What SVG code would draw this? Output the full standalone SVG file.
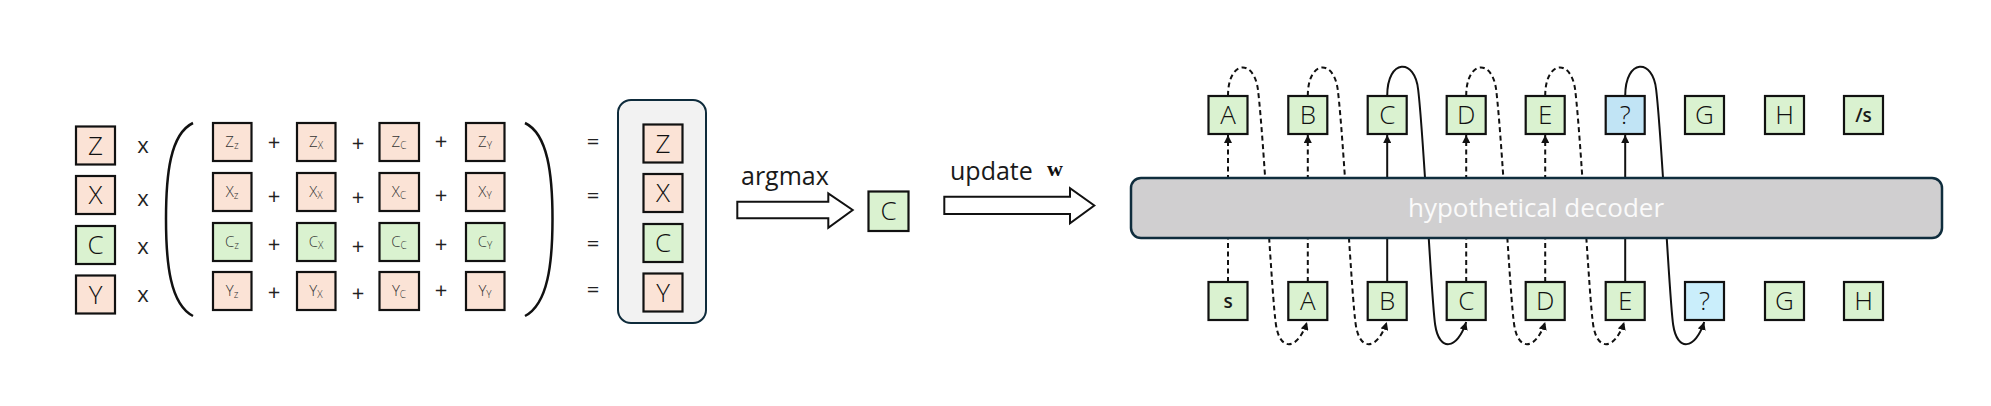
<svg xmlns="http://www.w3.org/2000/svg" width="1991" height="406" viewBox="0 0 1991 406">
<defs>
<style>
.pk{fill:#fbe3d6;stroke:#111;stroke-width:2.2}
.gr{fill:#daf2d0;stroke:#111;stroke-width:2.2}
.bl1{fill:#c1e4f5;stroke:#111;stroke-width:2.2}
.bl2{fill:#caeefb;stroke:#111;stroke-width:2.2}
.big{font-family:"Open Sans","Liberation Sans",sans-serif;font-weight:300;font-size:26px;fill:#111;text-anchor:middle}
.sm{font-family:"Open Sans","Liberation Sans",sans-serif;font-weight:300;font-size:15px;fill:#333;text-anchor:middle}
.sub{font-size:10px}
.op{font-family:"Open Sans","Liberation Sans",sans-serif;font-weight:400;font-size:22px;fill:#222;text-anchor:middle}
.lbl{font-family:"Open Sans","Liberation Sans",sans-serif;font-weight:400;font-size:24px;fill:#1a1a1a}
.tok{font-family:"Open Sans","Liberation Sans",sans-serif;font-weight:600;font-size:19px;fill:#1a1a1a;text-anchor:middle}
.ln{fill:none;stroke:#111;stroke-width:2}
.dash{stroke-dasharray:5 3.5}
</style>
<marker id="ah" viewBox="0 0 10 10" refX="10" refY="5" markerWidth="8" markerHeight="8" markerUnits="userSpaceOnUse" orient="auto">
<path d="M0,0 L10,5 L0,10 z" fill="#111"/>
</marker>
</defs>
<rect width="1991" height="406" fill="#fff"/>

<!-- left column -->
<g id="left-Z"><rect class="pk" x="76" y="126.5" width="39" height="38"/><text class="big" x="95.5" y="154.5">Z</text></g>
<g id="left-X"><rect class="pk" x="76" y="176" width="39" height="38"/><text class="big" x="95.5" y="204">X</text></g>
<g id="left-C"><rect class="gr" x="76" y="226" width="39" height="38"/><text class="big" x="95.5" y="254">C</text></g>
<g id="left-Y"><rect class="pk" x="76" y="275.5" width="39" height="38"/><text class="big" x="95.5" y="303.5">Y</text></g>

<g id="times">
<text class="op" x="143" y="153">x</text>
<text class="op" x="143" y="206">x</text>
<text class="op" x="143" y="254">x</text>
<text class="op" x="143" y="302">x</text>
</g>

<g id="parens" class="ln" style="stroke-width:2.5">
<path d="M193,123 C170,134 166,175 166,219 C166,263 170,304 193,316"/>
<path d="M525,123 C548,134 552.5,175 552.5,219 C552.5,263 548,304 525,316"/>
</g>

<!-- matrix -->
<g id="m-Z">
<rect class="pk" x="213" y="123" width="38.5" height="38"/><text class="sm" x="232" y="147">Z<tspan class="sub" dy="2">z</tspan></text>
<rect class="pk" x="297" y="123" width="38.5" height="38"/><text class="sm" x="316" y="147">Z<tspan class="sub" dy="2">X</tspan></text>
<rect class="pk" x="379.5" y="123" width="39.5" height="38"/><text class="sm" x="399" y="147">Z<tspan class="sub" dy="2">C</tspan></text>
<rect class="pk" x="466" y="123" width="38.5" height="38"/><text class="sm" x="485" y="147">Z<tspan class="sub" dy="2">Y</tspan></text>
</g>
<g id="m-X">
<rect class="pk" x="213" y="173" width="38.5" height="38"/><text class="sm" x="232" y="197">X<tspan class="sub" dy="2">z</tspan></text>
<rect class="pk" x="297" y="173" width="38.5" height="38"/><text class="sm" x="316" y="197">X<tspan class="sub" dy="2">X</tspan></text>
<rect class="pk" x="379.5" y="173" width="39.5" height="38"/><text class="sm" x="399" y="197">X<tspan class="sub" dy="2">C</tspan></text>
<rect class="pk" x="466" y="173" width="38.5" height="38"/><text class="sm" x="485" y="197">X<tspan class="sub" dy="2">Y</tspan></text>
</g>
<g id="m-C">
<rect class="gr" x="213" y="223" width="38.5" height="38"/><text class="sm" x="232" y="247">C<tspan class="sub" dy="2">z</tspan></text>
<rect class="gr" x="297" y="223" width="38.5" height="38"/><text class="sm" x="316" y="247">C<tspan class="sub" dy="2">X</tspan></text>
<rect class="gr" x="379.5" y="223" width="39.5" height="38"/><text class="sm" x="399" y="247">C<tspan class="sub" dy="2">C</tspan></text>
<rect class="gr" x="466" y="223" width="38.5" height="38"/><text class="sm" x="485" y="247">C<tspan class="sub" dy="2">Y</tspan></text>
</g>
<g id="m-Y">
<rect class="pk" x="213" y="272" width="38.5" height="38"/><text class="sm" x="232" y="296">Y<tspan class="sub" dy="2">z</tspan></text>
<rect class="pk" x="297" y="272" width="38.5" height="38"/><text class="sm" x="316" y="296">Y<tspan class="sub" dy="2">X</tspan></text>
<rect class="pk" x="379.5" y="272" width="39.5" height="38"/><text class="sm" x="399" y="296">Y<tspan class="sub" dy="2">C</tspan></text>
<rect class="pk" x="466" y="272" width="38.5" height="38"/><text class="sm" x="485" y="296">Y<tspan class="sub" dy="2">Y</tspan></text>
</g>
<g id="plus">
<text class="op" x="274" y="150">+</text><text class="op" x="358" y="151">+</text><text class="op" x="441" y="149">+</text>
<text class="op" x="274" y="204">+</text><text class="op" x="358" y="205">+</text><text class="op" x="441" y="203">+</text>
<text class="op" x="274" y="252">+</text><text class="op" x="358" y="254">+</text><text class="op" x="441" y="252">+</text>
<text class="op" x="274" y="300">+</text><text class="op" x="358" y="301">+</text><text class="op" x="441" y="298">+</text>
</g>
<g id="equals">
<text class="op" x="593" y="149">=</text>
<text class="op" x="593" y="203">=</text>
<text class="op" x="593" y="251">=</text>
<text class="op" x="593" y="297">=</text>
</g>

<g id="result">
<rect x="618" y="100" width="88" height="223" rx="13" fill="#f2f2f2" stroke="#0e2b3b" stroke-width="2"/>
<rect class="pk" x="643.5" y="124.5" width="39" height="38"/><text class="big" x="663" y="152.5">Z</text>
<rect class="pk" x="643.5" y="174" width="39" height="38"/><text class="big" x="663" y="202">X</text>
<rect class="gr" x="643.5" y="224" width="39" height="38"/><text class="big" x="663" y="252">C</text>
<rect class="pk" x="643.5" y="273.5" width="39" height="38"/><text class="big" x="663" y="301.5">Y</text>
</g>

<g id="argmax">
<polygon points="737.3,201.7 828.3,201.7 828.3,193.3 852.7,210 828.3,227.7 828.3,218.3 737.3,218.3" fill="#fff" stroke="#111" stroke-width="2"/>
<text class="lbl" x="741" y="185" style="font-size:25px">argmax</text>
</g>
<g id="argmax-C"><rect class="gr" x="868.5" y="191.5" width="40" height="39.5"/><text class="big" x="888.5" y="220">C</text></g>
<g id="update">
<polygon points="944.3,196.7 1070,196.7 1070,188.3 1094.3,205.5 1070,223.3 1070,214 944.3,214" fill="#fff" stroke="#111" stroke-width="2"/>
<text class="lbl" x="950" y="180" style="font-size:25px">update</text>
<text x="1055" y="176" font-family="Liberation Serif,serif" font-weight="bold" font-size="22" fill="#111" text-anchor="middle">w</text>
</g>

<!-- connectors -->
<g id="connectors">
<line class="ln dash" x1="1228" y1="282" x2="1228" y2="135" marker-end="url(#ah)"/>
<line class="ln dash" x1="1307.8" y1="282" x2="1307.8" y2="135" marker-end="url(#ah)"/>
<line class="ln" x1="1387.2" y1="282" x2="1387.2" y2="135" marker-end="url(#ah)"/>
<line class="ln dash" x1="1466.2" y1="282" x2="1466.2" y2="135" marker-end="url(#ah)"/>
<line class="ln dash" x1="1545.2" y1="282" x2="1545.2" y2="135" marker-end="url(#ah)"/>
<line class="ln" x1="1625.2" y1="282" x2="1625.2" y2="135" marker-end="url(#ah)"/>
<path class="ln dash" transform="translate(1228,0)" d="M0,96 C0,60 26,58 30,90 C36,140 44,300 48,325 C52,352 70,350 79,322" marker-end="url(#ah)"/>
<path class="ln dash" transform="translate(1307.8,0)" d="M0,96 C0,60 26,58 30,90 C36,140 44,300 48,325 C52,352 70,350 79,322" marker-end="url(#ah)"/>
<path class="ln" transform="translate(1387.2,0)" d="M0,96 C0,58 28,58 31,90 C37,140 44,300 48,325 C52,352 70,350 79,322" marker-end="url(#ah)"/>
<path class="ln dash" transform="translate(1466.2,0)" d="M0,96 C0,60 26,58 30,90 C36,140 44,300 48,325 C52,352 70,350 79,322" marker-end="url(#ah)"/>
<path class="ln dash" transform="translate(1545.2,0)" d="M0,96 C0,60 26,58 30,90 C36,140 44,300 48,325 C52,352 70,350 79,322" marker-end="url(#ah)"/>
<path class="ln" transform="translate(1625.2,0)" d="M0,96 C0,58 28,58 31,90 C37,140 44,300 48,325 C52,352 70,350 79,322" marker-end="url(#ah)"/>
</g>

<g id="decoder">
<rect x="1131" y="178" width="811" height="60" rx="10" fill="#d0cfd0" stroke="#0f2d3d" stroke-width="2.5"/>
<text x="1536" y="217" font-family="Open Sans,Liberation Sans,sans-serif" font-weight="400" font-size="26" fill="#fafafa" text-anchor="middle">hypothetical decoder</text>
</g>

<!-- top tokens -->
<g id="top-A"><rect class="gr" x="1208.5" y="96" width="39" height="38"/><text class="big" x="1228" y="124">A</text></g>
<g id="top-B"><rect class="gr" x="1288.3" y="96" width="39" height="38"/><text class="big" x="1307.8" y="124">B</text></g>
<g id="top-C"><rect class="gr" x="1367.7" y="96" width="39" height="38"/><text class="big" x="1387.2" y="124">C</text></g>
<g id="top-D"><rect class="gr" x="1446.7" y="96" width="39" height="38"/><text class="big" x="1466.2" y="124">D</text></g>
<g id="top-E"><rect class="gr" x="1525.7" y="96" width="39" height="38"/><text class="big" x="1545.2" y="124">E</text></g>
<g id="top-Q"><rect class="bl1" x="1605.7" y="96" width="39" height="38"/><text class="big" x="1625.2" y="124">?</text></g>
<g id="top-G"><rect class="gr" x="1685" y="96" width="39" height="38"/><text class="big" x="1704.5" y="124">G</text></g>
<g id="top-H"><rect class="gr" x="1765" y="96" width="39" height="38"/><text class="big" x="1784.5" y="124">H</text></g>
<g id="top-end"><rect class="gr" x="1844" y="96" width="39" height="38"/><text class="tok" x="1863.5" y="122">/s</text></g>

<!-- bottom tokens -->
<g id="bot-s"><rect class="gr" x="1208.5" y="282" width="39" height="38"/><text class="tok" x="1228" y="308">s</text></g>
<g id="bot-A"><rect class="gr" x="1288.3" y="282" width="39" height="38"/><text class="big" x="1307.8" y="310">A</text></g>
<g id="bot-B"><rect class="gr" x="1367.7" y="282" width="39" height="38"/><text class="big" x="1387.2" y="310">B</text></g>
<g id="bot-C"><rect class="gr" x="1446.7" y="282" width="39" height="38"/><text class="big" x="1466.2" y="310">C</text></g>
<g id="bot-D"><rect class="gr" x="1525.7" y="282" width="39" height="38"/><text class="big" x="1545.2" y="310">D</text></g>
<g id="bot-E"><rect class="gr" x="1605.7" y="282" width="39" height="38"/><text class="big" x="1625.2" y="310">E</text></g>
<g id="bot-Q"><rect class="bl2" x="1685" y="282" width="39" height="38"/><text class="big" x="1704.5" y="310">?</text></g>
<g id="bot-G"><rect class="gr" x="1765" y="282" width="39" height="38"/><text class="big" x="1784.5" y="310">G</text></g>
<g id="bot-H"><rect class="gr" x="1844" y="282" width="39" height="38"/><text class="big" x="1863.5" y="310">H</text></g>
</svg>
